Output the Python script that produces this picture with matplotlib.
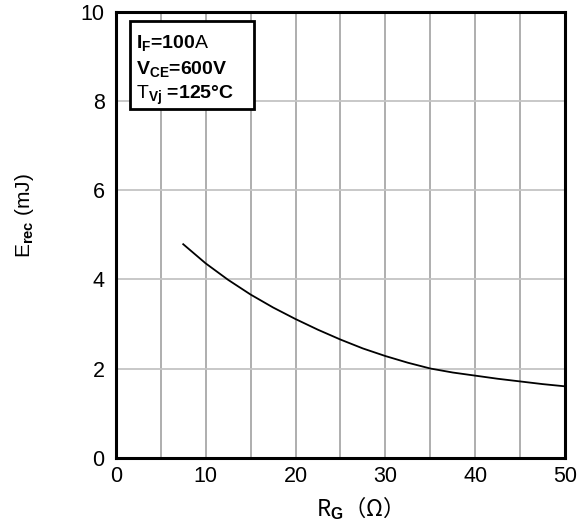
import numpy as np
import matplotlib
matplotlib.use("Agg")
import matplotlib.pyplot as plt
from matplotlib.patches import Rectangle

# ===== DATA =====
rg = [7.5, 10, 12.5, 15, 17.5, 20, 22.5, 25, 27.5, 30,
      32.5, 35, 37.5, 40, 42.5, 45, 47.5, 50]
erec = [4.79, 4.36, 3.99, 3.66, 3.37, 3.11, 2.87, 2.65, 2.45, 2.28,
        2.13, 2.00, 1.91, 1.84, 1.77, 1.71, 1.65, 1.60]
x_ticks = [0, 10, 20, 30, 40, 50]
y_ticks = [0, 2, 4, 6, 8, 10]

plt.rcParams['font.family'] = ['Liberation Sans', 'DejaVu Sans']
plt.rcParams['mathtext.fontset'] = 'custom'
plt.rcParams['mathtext.rm'] = 'Liberation Sans'
plt.rcParams['mathtext.it'] = 'Liberation Sans'
plt.rcParams['mathtext.bf'] = 'Liberation Sans:bold'

fig = plt.figure(figsize=(5.85, 5.26), dpi=100)
ax = fig.add_axes([0.198, 0.130, 0.768, 0.847])

ax.plot(rg, erec, color='black', linewidth=1.3)

ax.set_xlim(0, 50)
ax.set_ylim(0, 10)
ax.set_xticks(x_ticks)
ax.set_yticks(y_ticks)
ax.set_xticks(np.arange(0, 51, 5), minor=True)
ax.grid(True, which='both', axis='x', color='#a8a8a8', linewidth=1.3)
ax.grid(True, which='major', axis='y', color='#c4c4c4', linewidth=1.3)
ax.tick_params(which='both', length=0, labelsize=15.5)
ax.tick_params(axis='y', pad=8)
ax.tick_params(axis='x', pad=6)

for s in ax.spines.values():
    s.set_linewidth(2.2)

ax.set_xlabel(r'R$_{\mathbf{G}}$（Ω）', fontsize=16,
              family=['Noto Sans CJK SC', 'Liberation Sans'])
ax.xaxis.set_label_coords(0.528, -0.082)
ax.set_ylabel(r'E$_{\mathbf{rec}}$ (mJ)', fontsize=15)
ax.yaxis.set_label_coords(-0.178, 0.544)

# condition box
ax.add_patch(Rectangle((0.031, 0.782), 0.276, 0.198, transform=ax.transAxes,
                       facecolor='white', edgecolor='black', linewidth=2,
                       zorder=5))
lines = [r'$\mathbf{I}_{\mathbf{F}}$=100$\mathrm{A}$',
         r'$\mathbf{V}_{\mathbf{CE}}$=600V',
         r'$\mathrm{T}_{\mathbf{Vj}}$ =125°C']
ys = [0.920, 0.862, 0.806]
for s, yy in zip(lines, ys):
    ax.text(0.046, yy, s, transform=ax.transAxes, fontsize=14,
            fontweight='bold', va='baseline', ha='left', zorder=6)

fig.savefig('out.png', dpi=100)
